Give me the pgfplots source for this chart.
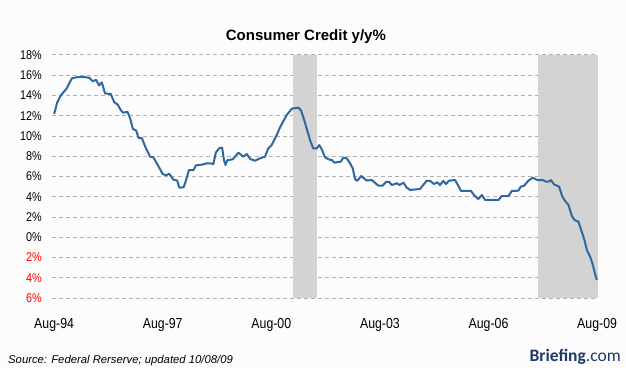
\documentclass[border=0pt]{standalone}
\usepackage{fontspec}
\setmainfont{Liberation Sans}
\newfontfamily\lblfont[FakeStretch=0.85]{Liberation Sans}
\newfontfamily\logofont{Carlito}
\usepackage{pgfplots}
\pgfplotsset{compat=1.18}
\definecolor{linecol}{RGB}{46,104,158}
\definecolor{shadecol}{RGB}{211,211,211}
\definecolor{gridcol}{RGB}{175,175,175}
\definecolor{logocol}{RGB}{28,58,106}
\definecolor{bgcol}{RGB}{252,252,252}
\begin{document}
\begin{tikzpicture}[x=1pt,y=1pt]
\fill[bgcol] (0,0) rectangle (626,367);
\path[use as bounding box] (0,0) rectangle (626,367);
\begin{axis}[
  at={(52pt,69pt)}, anchor=south west,
  scale only axis, width=546pt, height=243pt,
  xmin=-0.7, xmax=180.3, ymin=-6, ymax=18,
  axis line style={draw=none},
  major tick length=0pt,
  xtick={0,36,72,108,144,180},
  xticklabels={Aug-94,Aug-97,Aug-00,Aug-03,Aug-06,Aug-09},
  ytick={-6,-4,...,18},
  yticklabels={{\textcolor{red}{6\%}},{\textcolor{red}{4\%}},{\textcolor{red}{2\%}},0\%,2\%,4\%,6\%,8\%,10\%,12\%,14\%,16\%,18\%},
  ymajorgrids,
  grid style={gridcol, dash pattern=on 4pt off 3pt, line width=1pt},
  xticklabel style={font=\lblfont\fontsize{14.5}{16}\selectfont, anchor=base, yshift=-30pt, inner sep=0pt},
  yticklabel style={font=\lblfont\fontsize{12.7}{14}\selectfont, anchor=east, xshift=-10pt, inner sep=0pt},
  clip=false,
]
% recession shading
\addplot[fill=shadecol, draw=none] coordinates {(79.2,-6) (79.2,18) (87.1,18) (87.1,-6)} -- cycle;
\addplot[fill=shadecol, draw=none] coordinates {(160.4,-6) (160.4,18) (180.3,18) (180.3,-6)} -- cycle;
% consumer credit y/y %
\addplot[linecol, line width=2pt, line join=round] coordinates {
(0,12.2) (0.5,12.7) (1,13.3) (2,13.9) (3.3,14.4) (4.2,14.7) (5,15.2) (5.9,15.7) (7.5,15.8) (9.2,15.85)
(11.7,15.75) (12.8,15.4) (13.9,15.55) (14.9,15.0) (15.8,15.3) (16.9,14.2) (18.8,14.15) (19.9,13.35)
(21.1,13.1) (22.1,12.55) (22.9,12.3) (24.3,12.4) (25.2,11.75) (26.1,10.7) (27.2,10.55) (28,9.8)
(29.1,9.8) (30.2,8.95) (31.8,7.96) (32.9,7.9) (34.6,7.0) (36,6.25) (37.1,6.12) (38.2,6.27) (39.5,5.7)
(40.8,5.6) (41.5,4.9) (42.9,4.93) (43.6,5.5) (44.7,6.64) (46.2,6.64) (47,7.1) (49,7.17) (50.6,7.3)
(51.7,7.3) (52.8,7.23) (53.6,8.35) (54.7,8.78) (55.7,8.85) (56.3,7.63) (56.8,7.14) (57.4,7.6)
(59.2,7.7) (61.1,8.35) (62.7,7.96) (63.9,8.22) (65,7.73) (66.6,7.56) (68.3,7.8) (69.9,7.96) (71,8.78)
(72.1,9.1) (73.8,10.1) (74.9,10.86) (77.1,12.07) (78.8,12.7) (81,12.8) (81.9,12.5) (82.9,11.58)
(83.8,10.66) (84.9,9.54) (85.9,8.78) (87.1,8.78) (87.9,9.1) (88.7,8.7) (89.8,7.9) (90.9,7.7) (92,7.63)
(92.9,7.37) (94.2,7.43) (95,7.46) (95.9,7.86) (97,7.8) (98.1,7.3) (99,6.8) (99.8,5.72) (100.5,5.58)
(101.8,6.05) (103.6,5.6) (105.3,5.65) (107.5,5.09) (108.9,5.09) (110,5.46) (111.1,5.46) (111.9,5.16)
(113.6,5.33) (114.5,5.16) (115.8,5.39) (116.9,4.9) (118,4.67) (121.3,4.77) (123.5,5.58) (124.6,5.58)
(125.9,5.26) (127,5.43) (127.9,5.16) (129,5.56) (129.9,5.26) (130.9,5.58) (132.9,5.65) (134,5.09)
(134.9,4.57) (138.2,4.57) (139.2,4.17) (140.6,3.78) (141.8,4.17) (142.9,3.68) (147.3,3.68) (148.4,4.07)
(150.6,4.07) (151.7,4.57) (153.9,4.6) (154.7,5.0) (155.8,5.09) (157.2,5.58) (158.7,5.88) (160.2,5.65)
(162,5.65) (163.1,5.49) (163.9,5.49) (164.7,5.65) (165.7,5.23) (167.4,5.0) (168.5,4.0) (169.4,3.58)
(170.5,3.19) (171.6,2.13) (172.5,1.7) (173.8,1.54) (174.9,0.56) (175.8,-0.27) (176.6,-1.26)
(177.7,-1.92) (178.5,-2.64) (179.7,-4.05) (180,-4.2)
};
\node[anchor=base, inner sep=0pt, font=\bfseries\fontsize{15}{18}\selectfont] at (axis description cs:0.465,1.058) {Consumer Credit y/y\%};
\node[anchor=base west, inner sep=0pt, font=\itshape\fontsize{11.3}{13}\selectfont] at (axis description cs:-0.0806,-0.2675) {Source: Federal Rerserve; updated 10/08/09};
\node[anchor=base east, inner sep=0pt, text=logocol, font=\logofont\fontsize{17.5}{20}\selectfont] at (axis description cs:1.0421,-0.263) {\textbf{Briefing}.com};
\end{axis}
\end{tikzpicture}
\end{document}
